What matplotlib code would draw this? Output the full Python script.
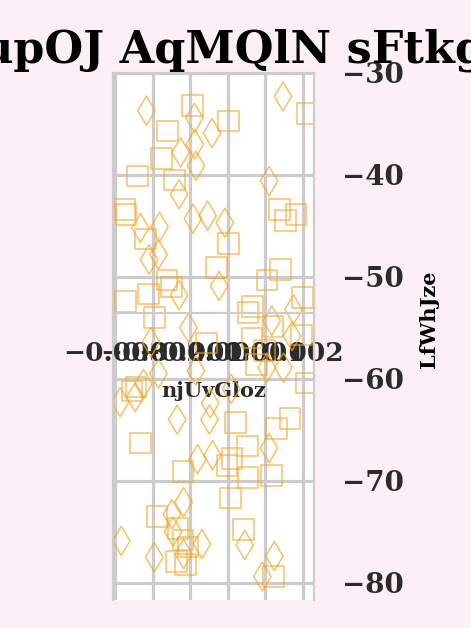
import matplotlib
matplotlib.use("Agg")
import matplotlib.pyplot as plt

TITLE = "upOJ AqMQlN sFtkg"
X_LABEL = "njUvGloz"
Y_LABEL = "LfWhJze"

# hollow squares
square_x = [-0.00094, -0.00161, 0.00002, -0.00177, -0.00241, -0.00142, 0.00211,
            -0.00276, -0.00271, -0.00220, 0.00001, 0.00138, 0.00182, 0.00154,
            -0.00030, 0.00141, 0.00104, -0.00162, -0.00150, -0.00211, -0.00273,
            0.00199, 0.00066, 0.00054, -0.00196, 0.00120, 0.00196, 0.00064,
            -0.00057, 0.00097, 0.00077, 0.00209, -0.00256, -0.00245, 0.00020,
            -0.00233, 0.00166, 0.00129, 0.00052, 0.00011, -0.00002, 0.00054,
            -0.00120, 0.00116, 0.00007, -0.00189, -0.00133, 0.00041, -0.00120,
            -0.00106, -0.00137, -0.00113, 0.00122]
square_y = [-33.2, -35.7, -34.7, -38.4, -40.1, -40.5, -34.0,
            -43.4, -43.9, -46.3, -46.7, -43.4, -43.9, -44.5,
            -49.1, -49.3, -50.3, -50.3, -51.0, -51.7, -52.4,
            -52.0, -52.9, -53.5, -54.0, -54.9, -55.7, -56.0,
            -56.5, -57.2, -58.6, -60.4, -61.2, -60.8, -64.3,
            -66.3, -63.9, -64.9, -66.6, -67.8, -68.5, -69.7,
            -69.1, -69.5, -71.7, -73.5, -74.7, -74.8, -75.8,
            -76.5, -77.9, -78.2, -79.4]

# hollow thin diamonds
diamond_x = [-0.00217, 0.00147, -0.00089, -0.00042, -0.00088, -0.00126, -0.00085,
             0.00110, -0.00130, -0.00093, -0.00054, -0.00008, -0.00233, -0.00182,
             -0.00185, -0.00210, -0.00023, -0.00130, 0.00175, 0.00117, -0.00105,
             -0.00205, 0.00171, 0.00104, 0.00148, -0.00085, -0.00185, -0.00225,
             -0.00247, -0.00287, 0.00009, -0.00047, -0.00049, -0.00135, 0.00110,
             -0.00041, -0.00081, -0.00118, -0.00149, -0.00146, -0.00284, -0.00069,
             -0.00118, -0.00196, 0.00045, 0.00124, 0.00092]
diamond_y = [-33.7, -32.3, -34.4, -35.9, -37.0, -37.8, -39.1,
             -40.6, -41.9, -44.3, -44.0, -44.7, -45.2, -45.1,
             -47.8, -48.3, -50.9, -51.8, -53.2, -54.3, -55.0,
             -56.4, -55.8, -58.9, -58.9, -59.2, -59.5, -60.5,
             -61.8, -62.3, -61.0, -62.4, -64.0, -64.0, -66.8,
             -67.5, -67.9, -72.1, -73.3, -75.0, -75.9, -76.2,
             -77.2, -77.5, -76.3, -77.4, -79.4]

x_ticks = [-0.003, -0.002, -0.001, 0.000, 0.001, 0.002]
y_ticks = [-80, -70, -60, -50, -40, -30]

BG = "#fcf0f6"
MARK = "#f5a623"
GRID = "#cccccc"
TEXT = "#2b2b2b"

plt.rcParams["font.family"] = ["DejaVu Serif"]

fig = plt.figure(figsize=(4.71, 6.28), dpi=100, facecolor=BG)
ax = fig.add_axes([0.240, 0.0446, 0.427, 0.8392])
ax.set_facecolor("white")
ax.set_axisbelow(True)

ax.scatter(square_x, square_y, marker="s", s=220, facecolors="none",
           edgecolors=MARK, linewidths=1.1, alpha=0.7)
ax.scatter(diamond_x, diamond_y, marker="d", s=220, facecolors="none",
           edgecolors=MARK, linewidths=1.1, alpha=0.7)

ax.set_xlim(-0.00306, 0.0023)
ax.set_ylim(-81.7, -30)
ax.set_xticks(x_ticks)
ax.set_yticks(y_ticks)
ax.grid(True, color=GRID, linewidth=2.3)

for side in ["left", "right", "top", "bottom"]:
    ax.spines[side].set_color(GRID)
    ax.spines[side].set_linewidth(1.6)
ax.spines["bottom"].set_position(("axes", 0.545))

ax.yaxis.tick_right()
ax.yaxis.set_label_position("right")
ax.tick_params(axis="both", length=0, pad=20, labelcolor=TEXT)
ax.tick_params(axis="y", labelsize=20)
ax.tick_params(axis="x", labelsize=19)
for lab in ax.get_xticklabels() + ax.get_yticklabels():
    lab.set_fontweight("bold")

ax.set_xlabel(X_LABEL, fontsize=15, fontweight="bold", color=TEXT, labelpad=11)
ax.set_ylabel(Y_LABEL, fontsize=15, fontweight="bold", color="black")
ax.yaxis.set_label_coords(1.522, 0.533)

fig.text(0.495, 0.9, TITLE, ha="center", va="baseline", fontsize=32,
         fontweight="bold", color="black")

fig.savefig("out.png", dpi=100, facecolor=BG)
